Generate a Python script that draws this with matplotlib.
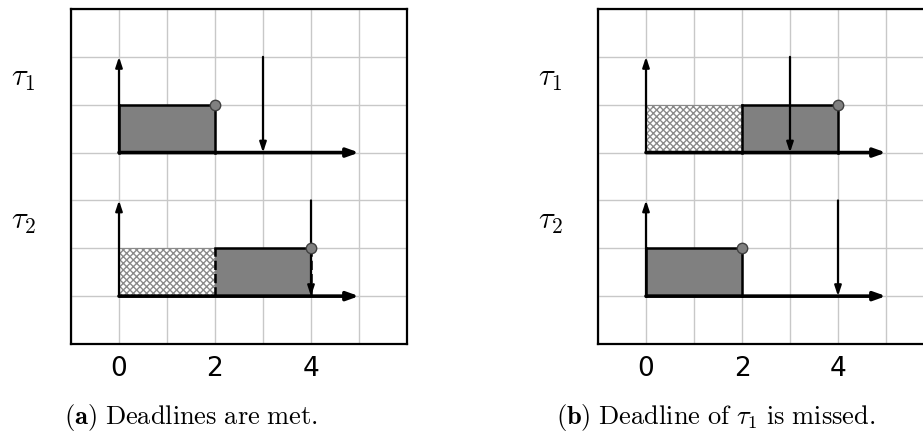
import matplotlib.pyplot as plt
from matplotlib.patches import Rectangle

plt.rcParams['mathtext.fontset'] = 'cm'

# task names and schedules (start, end) per panel
tasks = [r"$\tau_1$", r"$\tau_2$"]
deadlines = [3, 4]

# panel (a): tau1 runs first, tau2 waits then runs
a_wait = [None, (0, 2)]
a_run = [(0, 2), (2, 4)]
a_dashed = [False, True]

# panel (b): tau2 runs first, tau1 waits and misses its deadline
b_wait = [(0, 2), None]
b_run = [(2, 4), (0, 2)]
b_dashed = [False, False]

captions = [r"$\mathbf{(a)}\ \mathrm{Deadlines\ are\ met.}$",
            r"$\mathbf{(b)}\ \mathrm{Deadline\ of}\ \tau_1\ \mathrm{is\ missed.}$"]
tick_vals = [0, 2, 4]

gray = "#808080"

fig = plt.figure(figsize=(9.23, 4.34), dpi=100)
axes = [fig.add_axes([71 / 923, 90 / 434, 336 / 923, 335 / 434]),
        fig.add_axes([598 / 923, 90 / 434, 336 / 923, 335 / 434])]
cap_x = [191 / 923, 716 / 923]


def draw_panel(ax, wait, run, dashed):
    ax.set_xlim(-1, 6)
    ax.set_ylim(0, 7)
    ax.set_xticks(range(-1, 7))
    ax.set_xticklabels([str(v) if v in tick_vals else "" for v in range(-1, 7)],
                       fontsize=19, fontfamily="DejaVu Sans")
    ax.set_yticks(range(0, 8))
    ax.set_yticklabels([])
    ax.tick_params(length=0, pad=9)
    ax.grid(True, color="#c8c8c8", lw=1)
    ax.set_axisbelow(True)
    for s in ax.spines.values():
        s.set_linewidth(1.6)

    for i, name in enumerate(tasks):
        base = 4 - 3 * i
        ax.text(-2.0, base + 1.55, name, fontsize=22, ha="center", va="center",
                clip_on=False)
        if wait[i] is not None:
            w0, w1 = wait[i]
            ax.add_patch(Rectangle((w0, base), w1 - w0, 1, facecolor="white",
                                   edgecolor="#8a8a8a", hatch="xxxxx", lw=0.8, zorder=2))
        r0, r1 = run[i]
        ls = "--" if dashed[i] else "-"
        ax.add_patch(Rectangle((r0, base), r1 - r0, 1, facecolor=gray,
                               edgecolor="none", zorder=3))
        ax.plot([r0, r0], [base, base + 1], color="black", lw=1.8, ls=ls, zorder=4)
        ax.plot([r1, r1], [base, base + 1], color="black", lw=1.8, ls=ls, zorder=4)
        ax.plot([r0, r1], [base + 1, base + 1], color="black", lw=1.8, zorder=4)
        # completion marker
        ax.plot(r1, base + 1, "o", ms=7.5, mfc=gray, mec="#404040", mew=1, zorder=6)
        # time axis
        ax.annotate("", xy=(5, base), xytext=(0, base),
                    arrowprops=dict(arrowstyle="-|>,head_length=0.7,head_width=0.25",
                                    lw=2.6, color="black", shrinkA=0, shrinkB=0),
                    zorder=5)
        # release arrow
        ax.annotate("", xy=(0, base + 2), xytext=(0, base),
                    arrowprops=dict(arrowstyle="-|>,head_length=0.6,head_width=0.2",
                                    lw=1.6, color="black", shrinkA=0, shrinkB=0),
                    zorder=5)
        # deadline arrow
        d = deadlines[i]
        ax.annotate("", xy=(d, base), xytext=(d, base + 2),
                    arrowprops=dict(arrowstyle="-|>,head_length=0.6,head_width=0.2",
                                    lw=1.6, color="black", shrinkA=0, shrinkB=0),
                    zorder=5)


draw_panel(axes[0], a_wait, a_run, a_dashed)
draw_panel(axes[1], b_wait, b_run, b_dashed)

for x, c in zip(cap_x, captions):
    fig.text(x, 0.037, c, fontsize=19, ha="center", va="center")

fig.savefig("out.png", dpi=100)
